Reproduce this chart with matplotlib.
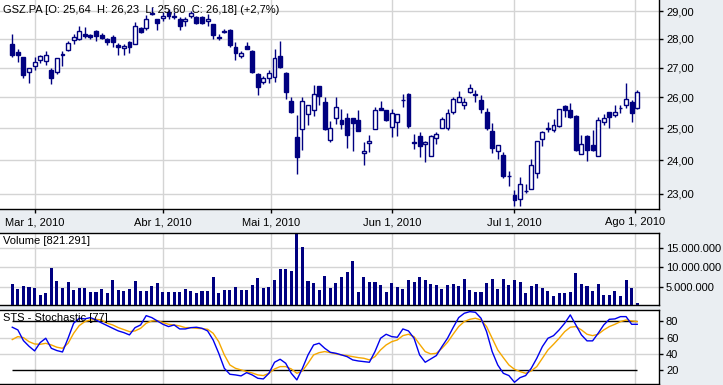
import numpy as np
import pandas as pd
import matplotlib
matplotlib.use('Agg')
import matplotlib.pyplot as plt
from matplotlib.patches import Rectangle
from matplotlib.ticker import FixedLocator, FuncFormatter, NullLocator

plt.rcParams['font.family'] = ['Liberation Sans', 'DejaVu Sans']

# GSZ.PA daily candles, 23 Feb 2010 - 2 Aug 2010
opens = [27.83, 27.53, 27.35, 26.84, 27.05, 27.25, 27.22, 26.92, 26.84, 27.44,
         27.62, 27.97, 28.00, 28.17, 28.14, 28.27, 28.14, 28.00, 28.07, 27.80,
         27.69, 27.90, 27.83, 28.39, 28.39, 28.90, 28.72, 28.76, 28.98, 28.81,
         28.72, 28.63, 28.84, 28.80, 28.80, 28.63, 28.52, 28.06, 28.26, 28.33,
         27.73, 27.39, 27.76, 27.59, 26.78, 26.51, 26.64, 26.67, 27.39, 26.81,
         25.87, 24.72, 24.97, 25.45, 25.58, 26.37, 25.84, 24.62, 25.32, 25.26,
         25.32, 25.32, 25.26, 24.23, 24.53, 24.97, 25.65, 25.58, 25.03, 25.19,
         25.90, 26.10, 24.57, 24.76, 24.50, 24.12, 24.69, 25.00, 25.00, 25.52,
         25.84, 25.74, 26.17, 26.10, 25.90, 25.52, 24.91, 24.28, 24.16, 23.54,
         22.97, 22.86, 23.08, 23.15, 23.62, 24.66, 24.97, 24.94, 25.06, 25.71,
         25.58, 25.39, 24.19, 24.76, 24.47, 24.12, 25.19, 25.52, 25.42, 25.64,
         25.74, 25.84, 25.64]
highs = [28.17, 27.66, 27.38, 26.99, 27.35, 27.45, 27.57, 26.97, 27.33, 27.59,
         27.93, 28.17, 28.48, 28.41, 28.17, 28.31, 28.20, 28.03, 28.14, 27.86,
         27.83, 27.93, 28.61, 28.43, 28.85, 29.15, 28.73, 28.96, 29.08, 28.96,
         28.78, 28.78, 29.02, 28.84, 28.84, 28.90, 28.52, 28.17, 28.36, 28.36,
         27.90, 27.59, 27.90, 27.60, 26.80, 26.71, 26.91, 27.66, 27.93, 26.84,
         26.00, 25.42, 26.00, 25.76, 26.40, 26.38, 26.00, 25.23, 26.00, 25.61,
         25.48, 25.33, 25.57, 24.56, 24.78, 25.68, 25.87, 25.59, 25.61, 25.46,
         26.10, 26.13, 24.81, 24.88, 24.58, 24.79, 24.88, 25.35, 25.61, 26.00,
         26.20, 25.97, 26.44, 26.24, 26.07, 25.65, 25.16, 24.48, 24.25, 23.69,
         23.12, 23.50, 23.29, 24.03, 24.60, 24.91, 25.19, 25.29, 25.62, 25.74,
         25.81, 25.42, 24.78, 24.77, 24.94, 25.35, 25.45, 25.53, 25.74, 25.74,
         26.47, 25.90, 26.23]
lows = [27.37, 27.20, 26.66, 26.49, 26.92, 27.15, 27.10, 26.43, 26.78, 27.07,
        27.59, 27.83, 27.97, 28.03, 28.00, 27.93, 28.00, 27.80, 27.73, 27.42,
        27.45, 27.52, 27.83, 28.21, 28.33, 28.85, 28.33, 28.66, 28.72, 28.72,
        28.33, 28.48, 28.76, 28.52, 28.52, 28.48, 28.00, 27.95, 28.20, 27.70,
        27.25, 27.32, 27.65, 26.82, 26.09, 26.44, 26.47, 26.51, 26.98, 25.94,
        25.48, 23.59, 24.31, 25.10, 25.38, 25.74, 24.94, 24.56, 25.13, 24.97,
        24.38, 24.30, 24.90, 23.85, 24.25, 24.96, 25.57, 25.23, 24.72, 24.75,
        25.68, 25.00, 24.35, 24.09, 23.94, 24.12, 24.51, 24.99, 24.94, 25.45,
        25.83, 25.61, 26.13, 25.84, 25.48, 24.94, 24.22, 24.03, 23.47, 23.24,
        22.66, 22.66, 23.03, 23.15, 23.47, 24.44, 24.88, 24.88, 25.05, 25.35,
        25.34, 24.28, 24.18, 23.97, 24.28, 24.12, 25.10, 25.00, 25.35, 25.48,
        25.65, 25.19, 25.60]
closes = [27.45, 27.45, 26.73, 26.98, 27.18, 27.39, 27.42, 26.66, 27.32, 27.46,
          27.86, 28.07, 28.27, 28.10, 28.07, 28.10, 28.03, 27.90, 27.90, 27.73,
          27.76, 27.73, 28.46, 28.25, 28.72, 28.93, 28.56, 28.84, 28.84, 28.79,
          28.48, 28.72, 28.94, 28.56, 28.56, 28.72, 28.15, 28.05, 28.27, 27.77,
          27.52, 27.52, 27.66, 26.84, 26.33, 26.64, 26.81, 27.32, 27.01, 26.17,
          25.52, 24.09, 25.87, 25.74, 26.10, 26.03, 24.97, 25.00, 25.68, 25.12,
          24.77, 25.16, 24.91, 24.29, 24.59, 25.58, 25.58, 25.26, 25.48, 25.45,
          25.91, 25.06, 24.53, 24.45, 24.57, 24.76, 24.81, 25.29, 25.48, 25.94,
          26.00, 25.84, 26.30, 26.07, 25.61, 25.00, 24.38, 24.47, 23.53, 23.52,
          22.83, 23.29, 23.09, 23.85, 24.59, 24.88, 25.00, 25.09, 25.61, 25.58,
          25.35, 24.31, 24.50, 24.31, 24.31, 25.26, 25.32, 25.35, 25.52, 25.65,
          25.94, 25.48, 26.18]

# volume in millions of shares
volume_m = [5.68, 4.49, 5.17, 5.00, 4.74, 2.86, 3.38, 9.79, 6.45, 4.74,
            6.20, 4.15, 4.74, 4.74, 3.63, 3.63, 4.40, 3.38, 6.71, 4.15,
            3.89, 4.40, 6.45, 3.89, 3.89, 5.17, 5.94, 3.63, 3.63, 3.63,
            3.63, 4.40, 3.89, 3.38, 3.89, 3.89, 7.48, 3.38, 4.15, 4.15,
            4.91, 4.15, 4.15, 5.43, 7.22, 4.74, 4.91, 6.71, 9.53, 9.53,
            9.02, 18.50, 15.17, 6.45, 5.94, 4.15, 7.74, 4.66, 5.94, 7.48,
            8.76, 11.58, 3.63, 7.48, 6.20, 6.20, 5.43, 3.63, 5.94, 4.91,
            4.40, 6.71, 6.20, 7.48, 6.71, 5.68, 5.43, 4.40, 5.43, 5.68,
            5.17, 6.97, 4.15, 3.63, 3.63, 5.94, 6.97, 4.40, 6.97, 5.43,
            6.71, 6.20, 3.38, 5.17, 5.68, 4.66, 3.89, 2.61, 3.38, 3.38,
            3.63, 8.50, 5.68, 5.17, 3.89, 5.68, 2.86, 2.86, 3.89, 2.61,
            6.71, 4.66, 0.821291]

# stochastic %K and %D
stoch_k = [72.7, 69.4, 56.3, 49.4, 43.7, 53.9, 59.2, 46.9, 44.1, 42.4,
           59.2, 77.6, 83.7, 82.9, 84.5, 81.6, 78.0, 74.7, 71.4, 68.2,
           66.1, 63.3, 72.2, 75.5, 86.9, 84.5, 80.4, 76.3, 73.5, 75.5,
           70.6, 70.6, 72.2, 72.7, 71.4, 68.2, 57.1, 40.8, 22.4, 15.1,
           14.3, 13.1, 17.1, 14.3, 10.2, 9.4, 16.3, 29.8, 33.5, 28.6,
           16.3, 8.2, 22.4, 38.8, 51.0, 53.1, 46.9, 42.0, 40.8, 38.8,
           36.7, 32.7, 31.4, 30.6, 29.8, 42.9, 59.2, 64.1, 61.2, 60.4,
           70.6, 68.2, 59.2, 38.8, 29.8, 33.9, 38.0, 49.0, 59.2, 72.2,
           84.5, 89.8, 91.8, 91.0, 83.7, 67.3, 42.9, 26.5, 16.3, 13.5,
           5.3, 11.0, 13.5, 22.4, 34.7, 49.0, 59.2, 62.4, 69.4, 77.6,
           87.8, 75.5, 63.3, 56.0, 56.0, 65.3, 75.5, 82.4, 82.9, 85.7,
           85.7, 76.3, 76.3]
stoch_d = [57.6, 61.2, 60.0, 55.0, 52.2, 51.8, 53.0, 51.0, 48.2, 46.9,
           53.0, 65.3, 74.7, 79.6, 81.6, 82.4, 81.6, 77.6, 75.5, 72.2,
           69.8, 67.3, 68.2, 71.4, 77.6, 80.4, 80.8, 78.4, 76.3, 75.5,
           74.3, 72.2, 72.2, 71.4, 71.0, 70.2, 65.3, 55.0, 38.8, 26.5,
           22.4, 20.4, 18.4, 16.7, 14.3, 13.5, 16.3, 21.6, 24.5, 24.5,
           21.6, 16.3, 19.2, 28.6, 38.8, 41.6, 42.9, 41.6, 40.0, 38.8,
           38.0, 36.7, 35.5, 34.7, 32.7, 36.7, 44.9, 51.0, 55.0, 57.1,
           62.4, 64.1, 61.2, 51.8, 42.9, 40.0, 40.8, 46.9, 54.3, 64.1,
           73.5, 79.6, 82.4, 83.7, 81.6, 73.5, 59.2, 44.9, 35.5, 26.5,
           21.2, 18.4, 16.3, 19.2, 24.5, 34.7, 44.9, 51.8, 59.2, 67.3,
           72.7, 73.5, 69.4, 64.1, 62.4, 64.1, 69.4, 73.5, 76.3, 79.6,
           81.6, 80.4, 79.6]

month_dates = ['2010-03-01', '2010-04-01', '2010-05-01', '2010-06-01', '2010-07-01', '2010-08-01']
month_labels = ['Mar 1, 2010', 'Abr 1, 2010', 'Mai 1, 2010', 'Jun 1, 2010', 'Jul 1, 2010', 'Ago 1, 2010']

# trading days (Euronext closed Good Friday / Easter Monday)
days = pd.bdate_range('2010-02-23', '2010-08-02')
days = days.drop(pd.to_datetime(['2010-04-02', '2010-04-05']))
x = np.arange(len(days))
day_num = np.array([d.toordinal() for d in days])
month_pos = np.interp([pd.Timestamp(m).toordinal() for m in month_dates], day_num, x)

navy = '#000080'
grid_c = '#d4d4d4'
bg = '#eaeef2'
W, H = 723, 385
right = 659 / W
xlim = (-2.2, 115.9)

fig = plt.figure(figsize=(W / 100, H / 100), dpi=100, facecolor=bg)
ax = fig.add_axes([0, 1 - 209 / H, right, 209 / H])
axv = fig.add_axes([0, (H - 305) / H, right, 72 / H])
axs = fig.add_axes([0, 1.5 / H, right, 73.5 / H])

for a in (ax, axv, axs):
    a.set_facecolor('white')
    a.set_xlim(*xlim)
    a.yaxis.tick_right()
    a.tick_params(axis='y', direction='out', length=3, width=1, pad=2, labelsize=8, colors='black')
    a.spines['left'].set_visible(False)
    for s in ('right', 'bottom', 'top'):
        a.spines[s].set_color('black')
        a.spines[s].set_linewidth(1)
    for p in month_pos:
        a.axvline(p, color=grid_c, lw=1, zorder=0)

# price panel
ax.set_yscale('log')
ax.set_ylim(22.56, 29.42)
ax.spines['top'].set_visible(False)
price_ticks = [23, 24, 25, 26, 27, 28, 29]
ax.yaxis.set_major_locator(FixedLocator(price_ticks))
ax.yaxis.set_minor_locator(NullLocator())
ax.yaxis.set_major_formatter(FuncFormatter(lambda v, p: f'{v:.2f}'.replace('.', ',')))
for t in price_ticks:
    ax.axhline(t, color=grid_c, lw=1, zorder=0)
ax.set_xticks(month_pos)
ax.set_xticklabels(month_labels)
ax.tick_params(axis='x', direction='out', length=3, width=1, pad=3, labelsize=8)

for i in x:
    o, h, l, c = opens[i], highs[i], lows[i], closes[i]
    ax.vlines(i, l, h, color=navy, lw=1, zorder=2)
    fc = 'white' if c >= o else navy
    ax.add_patch(Rectangle((i - 0.35, min(o, c)), 0.7, abs(c - o), facecolor=fc,
                           edgecolor=navy, lw=1, zorder=3))

ax.text(0.004, 1 - 10 / 209, 'GSZ.PA [O: 25,64  H: 26,23  L: 25,60  C: 26,18] (+2,7%)',
        transform=ax.transAxes, va='center', ha='left', fontsize=8, zorder=5)

# volume panel
vol = np.array(volume_m) * 1e6
axv.bar(x, vol, width=0.55, color=navy, zorder=2)
axv.set_ylim(0.3e6, 18.8e6)
vticks = [5e6, 10e6, 15e6]
axv.set_yticks(vticks)
axv.yaxis.set_major_formatter(FuncFormatter(lambda v, p: f'{int(v):,}'.replace(',', '.')))
for t in vticks:
    axv.axhline(t, color=grid_c, lw=1, zorder=0)
axv.set_xticks([])
axv.text(0.004, 0.89, 'Volume [821.291]', transform=axv.transAxes, va='center', ha='left', fontsize=8)

# stochastic panel
axs.set_ylim(3.8, 93.8)
axs.set_yticks([20, 40, 60, 80])
for t in (40, 60):
    axs.axhline(t, color=grid_c, lw=1, zorder=0)
axs.hlines([20, 80], x[0], x[-1], color='black', lw=1, zorder=1)
axs.plot(x, stoch_d, color='#f5a800', lw=1, zorder=2)
axs.plot(x, stoch_k, color='#0000ee', lw=1, zorder=3)
axs.set_xticks([])
axs.text(0.004, 0.89, 'STS - Stochastic [77]', transform=axs.transAxes, va='center', ha='left', fontsize=8)

fig.savefig('out.png', dpi=100, facecolor=bg)
